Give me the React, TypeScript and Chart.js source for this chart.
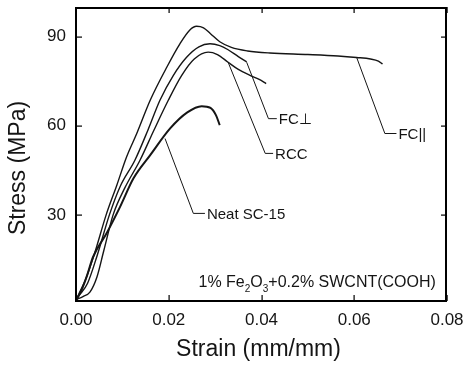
import React, { useEffect, useRef } from "react";
import { Chart, registerables } from "chart.js";

Chart.register(...registerables);

// ---- axis ticks ----
const strainTicks = [0, 0.02, 0.04, 0.06, 0.08];
const stressTicks = [30, 60, 90];

// ---- series (strain mm/mm, stress MPa) ----
const fcParStrain = [0, 0.0008, 0.002, 0.004, 0.0065, 0.0088, 0.0109, 0.0131, 0.016, 0.0196, 0.0224, 0.0245, 0.026, 0.0275, 0.029, 0.031, 0.0335, 0.037, 0.0418, 0.05, 0.0565, 0.0605, 0.0635, 0.0652, 0.0661];
const fcParStress = [1, 4, 8, 17, 30, 40, 49.5, 57.4, 68.6, 79.8, 87.6, 92.2, 93.5, 93, 91, 88.3, 86.4, 85.2, 84.5, 84, 83.5, 83, 82.5, 81.8, 80.8];

const fcPerpStrain = [0, 0.001, 0.0025, 0.0045, 0.0072, 0.0095, 0.0127, 0.0155, 0.0181, 0.021, 0.0238, 0.0265, 0.0289, 0.031, 0.0328, 0.035, 0.0368];
const fcPerpStress = [2, 3.5, 7, 16, 30, 39.5, 48.4, 58.5, 68.6, 77, 83, 86.6, 87.6, 87, 85.6, 83.3, 81.5];

const rccStrain = [0, 0.0015, 0.003, 0.0045, 0.006, 0.008, 0.0105, 0.0138, 0.0168, 0.0199, 0.0228, 0.0255, 0.0285, 0.0305, 0.0328, 0.035, 0.0375, 0.0395, 0.041];
const rccStress = [1.5, 2.5, 4, 9, 18, 30, 39, 48.4, 58.5, 68.6, 77, 82.5, 84.8, 84, 81.4, 79, 77, 75.6, 74.2];

const neatStrain = [0, 0.0005, 0.0012, 0.0023, 0.0037, 0.0066, 0.0095, 0.0124, 0.016, 0.0203, 0.024, 0.0271, 0.029, 0.0302, 0.031];
const neatStress = [1, 2.5, 4.7, 9.2, 15.9, 23.8, 32.7, 42.3, 50.1, 59.1, 64.5, 66.6, 66, 63.5, 60.2];

// ---- callout labels and their leader lines (data coordinates) ----
const calloutTexts = ["FC||", "FC\u22a5", "RCC", "Neat SC-15"];
const calloutStrain = [
  [0.0605, 0.0666, 0.0691],
  [0.0368, 0.0415, 0.0433],
  [0.0328, 0.0408, 0.0425],
  [0.0192, 0.0253, 0.0278],
];
const calloutStress = [
  [83.1, 57.4, 57.4],
  [81.4, 62.4, 62.4],
  [81.4, 50.7, 50.7],
  [55.7, 30.5, 30.5],
];

// ---- composition note ----
const notePartsText = ["1% Fe", "2", "O", "3", "+0.2% SWCNT(COOH)"];
const notePartsSub = [false, true, false, true, false];
const noteAnchor = [0.0776, 5.8]; // right end, baseline

const xTitle = "Strain (mm/mm)";
const yTitle = "Stress (MPa)";

const FONT = "'Liberation Sans', Arial, Helvetica, sans-serif";
const INK = "#000000";

function pts(xs: number[], ys: number[]) {
  return xs.map((x, i) => ({ x, y: ys[i] }));
}

function zeroPad(s: any) {
  s.paddingTop = 0;
  s.paddingBottom = 0;
  s.paddingLeft = 0;
  s.paddingRight = 0;
}

export default function App() {
  const ref = useRef<HTMLCanvasElement | null>(null);
  useEffect(() => {
    if (!ref.current) return;
    const decor = {
      id: "decorFrame",
      afterDraw(chart: any) {
        const { ctx, chartArea: a, scales } = chart;
        const xs = scales.x;
        const ys = scales.y;
        ctx.save();
        ctx.fillStyle = INK;
        ctx.strokeStyle = INK;
        // frame, drawn just inside the plot area
        ctx.fillRect(a.left - 1, a.top, a.right - a.left + 1, 2);
        ctx.fillRect(a.right - 2, a.top, 2, a.bottom - a.top);
        ctx.fillRect(a.left - 1, a.bottom - 1, a.right - a.left + 1, 2);
        ctx.fillRect(a.left - 1, a.top, 2, a.bottom - a.top);
        // inward ticks
        const tl = 6;
        strainTicks.forEach((v) => {
          const px = Math.round(xs.getPixelForValue(v));
          ctx.fillRect(px - 0.5, a.bottom - tl, 1.2, tl);
          ctx.fillRect(px - 0.5, a.top, 1.2, tl);
        });
        stressTicks.forEach((v) => {
          const py = Math.round(ys.getPixelForValue(v));
          ctx.fillRect(a.left, py - 0.5, tl, 1.2);
          ctx.fillRect(a.right - tl, py - 0.5, tl, 1.2);
        });

        // callouts
        ctx.fillStyle = "#151515";
        ctx.strokeStyle = "#151515";
        ctx.lineWidth = 1;
        ctx.font = `15px ${FONT}`;
        ctx.textBaseline = "middle";
        ctx.textAlign = "left";
        calloutTexts.forEach((t, i) => {
          const sx = calloutStrain[i];
          const sy = calloutStress[i];
          ctx.beginPath();
          sx.forEach((x, k) => {
            const px = xs.getPixelForValue(x);
            const py = ys.getPixelForValue(sy[k]);
            if (k === 0) ctx.moveTo(px, py);
            else ctx.lineTo(px, py);
          });
          ctx.stroke();
          const ex = xs.getPixelForValue(sx[sx.length - 1]) + 2;
          const ey = ys.getPixelForValue(sy[sy.length - 1]) + 1;
          ctx.fillText(t, ex, ey);
        });

        // note with subscripts
        ctx.textBaseline = "alphabetic";
        const mainFont = `16px ${FONT}`;
        const subFont = `10px ${FONT}`;
        let total = 0;
        notePartsText.forEach((t, i) => {
          ctx.font = notePartsSub[i] ? subFont : mainFont;
          total += ctx.measureText(t).width;
        });
        let nx = xs.getPixelForValue(noteAnchor[0]) - total;
        const ny = ys.getPixelForValue(noteAnchor[1]);
        notePartsText.forEach((t, i) => {
          ctx.font = notePartsSub[i] ? subFont : mainFont;
          ctx.fillText(t, nx, notePartsSub[i] ? ny + 5 : ny);
          nx += ctx.measureText(t).width;
        });

        // axis titles
        ctx.font = `23px ${FONT}`;
        ctx.textAlign = "center";
        ctx.textBaseline = "middle";
        ctx.fillText(xTitle, (a.left + a.right) / 2 - 3, a.bottom + 49);
        ctx.save();
        ctx.translate(19, (a.top + a.bottom) / 2 + 14);
        ctx.rotate(-Math.PI / 2);
        ctx.fillText(yTitle, 0, 0);
        ctx.restore();
        ctx.restore();
      },
    };
    const common = {
      borderColor: "#151515",
      pointRadius: 0,
      fill: false,
      cubicInterpolationMode: "monotone" as const,
    };
    const chart = new Chart(ref.current, {
      type: "line",
      data: {
        datasets: [
          { ...common, label: "FC||", data: pts(fcParStrain, fcParStress), borderWidth: 1.4 },
          { ...common, label: "FC\u22a5", data: pts(fcPerpStrain, fcPerpStress), borderWidth: 1.4 },
          { ...common, label: "RCC", data: pts(rccStrain, rccStress), borderWidth: 1.4 },
          { ...common, label: "Neat SC-15", data: pts(neatStrain, neatStress), borderWidth: 2 },
        ],
      },
      options: {
        animation: false,
        responsive: false,
        devicePixelRatio: 1,
        layout: { padding: { top: 7, right: 20, left: 0, bottom: 0 } },
        plugins: { legend: { display: false }, tooltip: { enabled: false } },
        scales: {
          x: {
            type: "linear",
            min: 0,
            max: 0.08,
            afterBuildTicks: (s: any) => {
              s.ticks = strainTicks.map((v) => ({ value: v }));
            },
            afterFit: (s: any) => {
              s.height = 67;
              zeroPad(s);
            },
            grid: { display: false, drawTicks: false },
            border: { display: false },
            ticks: {
              autoSkip: false,
              maxRotation: 0,
              padding: 9,
              color: "#151515",
              font: { family: FONT, size: 17 },
              callback: (v: any) => Number(v).toFixed(2),
            },
          },
          y: {
            type: "linear",
            min: 1,
            max: 100,
            afterBuildTicks: (s: any) => {
              s.ticks = stressTicks.map((v) => ({ value: v }));
            },
            afterFit: (s: any) => {
              s.width = 76;
              zeroPad(s);
            },
            grid: { display: false, drawTicks: false },
            border: { display: false },
            ticks: {
              padding: 10,
              color: "#151515",
              font: { family: FONT, size: 17 },
              callback: (v: any) => String(v),
            },
          },
        },
      },
      plugins: [decor],
    });
    return () => chart.destroy();
  }, []);
  return (
    <div style={{ position: "fixed", left: 0, top: 0, width: 467, height: 368, background: "#fff" }}>
      <canvas ref={ref} width={467} height={368} style={{ display: "block", width: 467, height: 368 }} />
    </div>
  );
}
